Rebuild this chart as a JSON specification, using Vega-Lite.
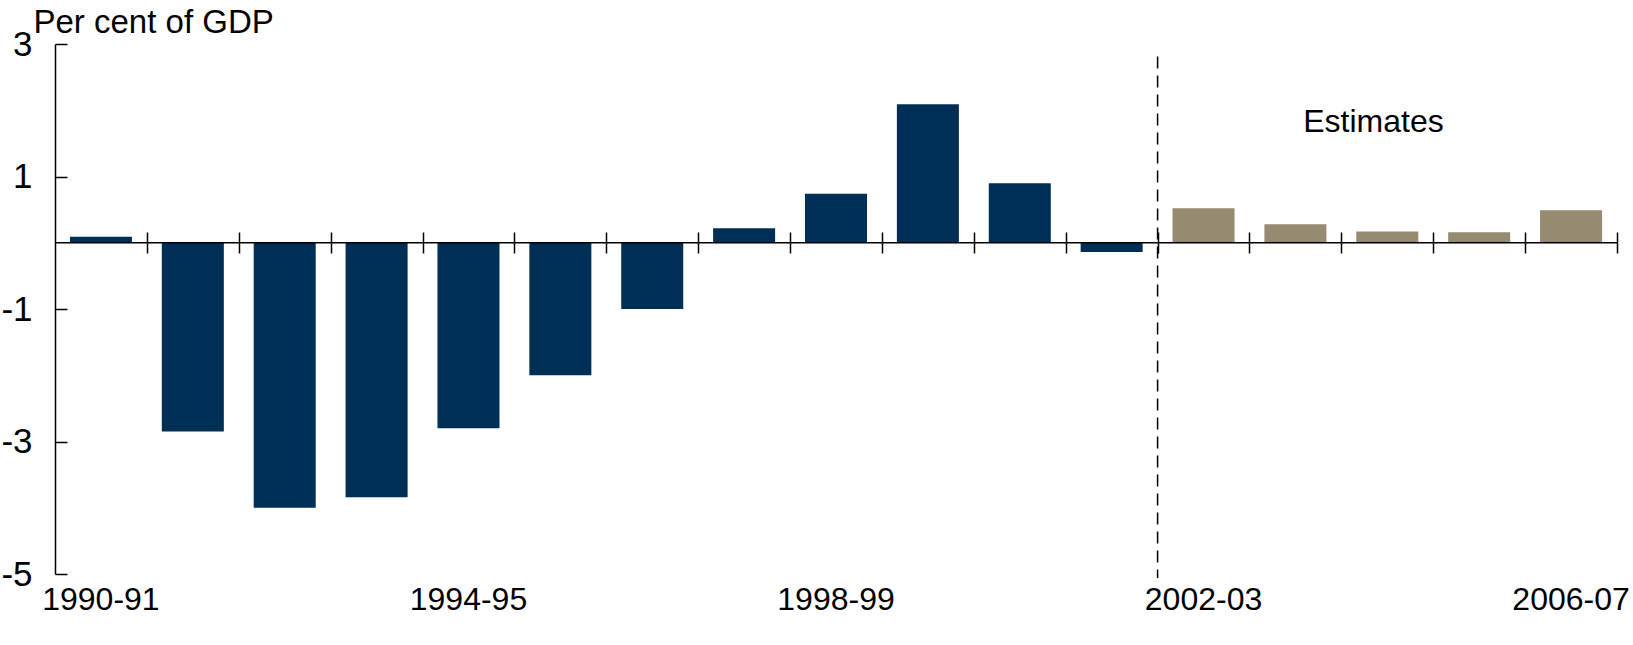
{
  "$schema": "https://vega.github.io/schema/vega-lite/v6.json",
  "autosize": "none",
  "width": 1562,
  "height": 530,
  "padding": {"left": 55, "top": 44, "right": 16, "bottom": 71},
  "background": "white",
  "config": {
    "view": {"stroke": null},
    "font": "Liberation Sans",
    "axis": {"labelColor": "black", "titleColor": "black", "labelFont": "Liberation Sans", "titleFont": "Liberation Sans", "grid": false}
  },
  "resolve": {"scale": {"x": "independent"}, "axis": {"x": "independent", "y": "independent"}},
  "layer": [
    {
      "data": {
        "values": [
          {"year": "1990-91", "value": 0.09, "kind": "Actual"},
          {"year": "1991-92", "value": -2.85, "kind": "Actual"},
          {"year": "1992-93", "value": -4.0, "kind": "Actual"},
          {"year": "1993-94", "value": -3.84, "kind": "Actual"},
          {"year": "1994-95", "value": -2.8, "kind": "Actual"},
          {"year": "1995-96", "value": -2.0, "kind": "Actual"},
          {"year": "1996-97", "value": -1.0, "kind": "Actual"},
          {"year": "1997-98", "value": 0.22, "kind": "Actual"},
          {"year": "1998-99", "value": 0.74, "kind": "Actual"},
          {"year": "1999-00", "value": 2.09, "kind": "Actual"},
          {"year": "2000-01", "value": 0.9, "kind": "Actual"},
          {"year": "2001-02", "value": -0.14, "kind": "Actual"},
          {"year": "2002-03", "value": 0.52, "kind": "Estimate"},
          {"year": "2003-04", "value": 0.28, "kind": "Estimate"},
          {"year": "2004-05", "value": 0.17, "kind": "Estimate"},
          {"year": "2005-06", "value": 0.16, "kind": "Estimate"},
          {"year": "2006-07", "value": 0.49, "kind": "Estimate"}
        ]
      },
      "mark": {"type": "bar"},
      "encoding": {
        "x": {
          "field": "year",
          "type": "nominal",
          "sort": null,
          "scale": {"paddingInner": 0.325, "paddingOuter": 0.1625},
          "axis": {
            "title": null,
            "orient": "bottom",
            "values": ["1990-91", "1994-95", "1998-99", "2002-03", "2006-07"],
            "ticks": false,
            "domain": false,
            "labelAngle": 0,
            "labelFontSize": 32,
            "labelBaseline": "top",
            "labelPadding": 10
          }
        },
        "y": {
          "field": "value",
          "type": "quantitative",
          "scale": {"domain": [-5, 3], "nice": false, "zero": false},
          "axis": {
            "values": [-5, -3, -1, 1, 3],
            "labelExpr": "datum.value < 0 ? '-' + abs(datum.value) : '' + datum.value",
            "title": "Per cent of GDP",
            "titleAngle": 0,
            "titleAlign": "left",
            "titleBaseline": "alphabetic",
            "titleX": -22,
            "titleY": -12,
            "titleFontSize": 33,
            "titleFontWeight": "normal",
            "labelFontSize": 35,
            "tickSize": -12,
            "labelPadding": 35,
            "tickColor": "black",
            "tickWidth": 1.5,
            "domainColor": "black",
            "domainWidth": 1.5
          }
        },
        "color": {
          "field": "kind",
          "type": "nominal",
          "scale": {"domain": ["Actual", "Estimate"], "range": ["#002F56", "#968B70"]},
          "legend": null
        }
      }
    },
    {
      "data": {"values": [{"y": 0}]},
      "mark": {"type": "rule", "color": "black", "strokeWidth": 1.5},
      "encoding": {
        "y": {"field": "y", "type": "quantitative", "scale": {"domain": [-5, 3], "nice": false}, "axis": null}
      }
    },
    {
      "data": {"values": [{"pos": 12, "top": 2.81, "bottom": -5.06}]},
      "mark": {"type": "rule", "color": "black", "strokeWidth": 1.5, "strokeDash": [12, 7]},
      "encoding": {
        "x": {
          "field": "pos",
          "type": "quantitative",
          "scale": {"domain": [0, 17], "nice": false, "zero": false},
          "axis": {
            "orient": "bottom",
            "offset": -342,
            "values": [1, 2, 3, 4, 5, 6, 7, 8, 9, 10, 11, 12, 13, 14, 15, 16, 17],
            "labels": false,
            "domain": false,
            "title": null,
            "tickSize": 21,
            "tickColor": "black",
            "tickWidth": 1.5
          }
        },
        "y": {"field": "top", "type": "quantitative", "scale": {"domain": [-5, 3], "nice": false}, "axis": null},
        "y2": {"field": "bottom"}
      }
    },
    {
      "data": {"values": [{"pos": 14.35, "y": 1.67, "label": "Estimates"}]},
      "mark": {"type": "text", "fontSize": 32, "align": "center", "baseline": "alphabetic", "color": "black"},
      "encoding": {
        "x": {"field": "pos", "type": "quantitative", "scale": {"domain": [0, 17], "nice": false, "zero": false}, "axis": null},
        "y": {"field": "y", "type": "quantitative", "scale": {"domain": [-5, 3], "nice": false}, "axis": null},
        "text": {"field": "label"}
      }
    }
  ]
}
